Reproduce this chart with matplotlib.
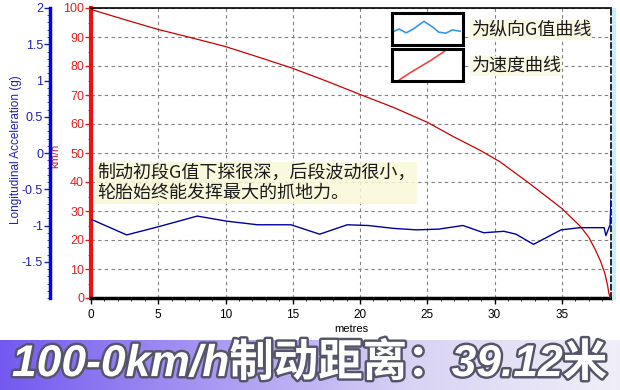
import numpy as np
import matplotlib.pyplot as plt
import matplotlib.patheffects as pe
from matplotlib.colors import LinearSegmentedColormap
from matplotlib.ticker import MultipleLocator, FixedLocator

plt.rcParams['font.family'] = ['Liberation Sans', 'Noto Sans CJK SC', 'DejaVu Sans']

# speed curve (km/h) against distance (m)
dist_v = [0, 2.5, 5, 7.5, 10, 12.5, 15, 17.5, 20, 22.5, 25, 27, 28.9, 30.4,
          32.6, 35.0, 36.4, 37.0, 37.5, 37.9, 38.2, 38.4, 38.5, 38.62]
speed = [99.5, 96, 92.6, 89.7, 86.7, 83, 79.2, 74.8, 70.2, 65.7, 60.6, 55.5,
         51, 47, 39.5, 30.9, 24.6, 21, 16.6, 12.5, 8.5, 4.5, 1.6, 0]

# longitudinal acceleration (g)
dist_g = [0.08, 2.65, 4.95, 7.9, 10.08, 12.39, 14.87, 17.0, 19.05, 20.6, 22.5,
          24.2, 25.85, 27.65, 29.2, 30.7, 31.6, 32.9, 34.95, 36.35, 38.15,
          38.28, 38.59, 38.66]
accel = [-0.92, -1.13, -1.02, -0.87, -0.94, -0.99, -0.99, -1.12, -0.99, -1.0,
         -1.04, -1.06, -1.05, -1.0, -1.10, -1.08, -1.12, -1.26, -1.06, -1.03,
         -1.03, -1.14, -0.99, -0.65]

g_ticks = [-1.5, -1, -0.5, 0, 0.5, 1, 1.5, 2]
g_labels = ['-1.5', '-1', '-0.5', '0', '0.5', '1', '1.5', '2']

# little icons of the legend boxes
icon_gx = [0.2, 1.0, 2.0, 3.0, 4.5, 5.8, 6.6, 7.6, 8.5, 9.6]
icon_g = [0.42, 0.5, 0.38, 0.5, 0.74, 0.55, 0.4, 0.37, 0.47, 0.43]
icon_vx = [1.0, 2.5, 4.0, 5.5, 7.4]
icon_v = [0.03, 0.25, 0.45, 0.65, 0.93]

title = '100-0km/h制动距离：39.12米'
note = '制动初段G值下探很深，后段波动很小，\n轮胎始终能发挥最大的抓地力。'

W, H = 620, 390
fig = plt.figure(figsize=(6.2, 3.9), dpi=100)
fig.patch.set_facecolor('white')

L, R, T, B = 91, 611, 8, 298
ax = fig.add_axes([L / W, 1 - B / H, (R - L) / W, (B - T) / H])
ax.set_xlim(0, 38.66)
ax.set_ylim(0, 100)
ax.grid(True, color='#808080', linestyle=(0, (3, 3)), linewidth=0.8)
ax.set_axisbelow(True)
ax.plot(dist_v, speed, color='#cc0000', lw=0.9, zorder=3)

ax.xaxis.set_major_locator(MultipleLocator(5))
ax.xaxis.set_minor_locator(MultipleLocator(1))
ax.yaxis.set_major_locator(MultipleLocator(10))
ax.yaxis.set_minor_locator(MultipleLocator(5))
ax.tick_params(axis='x', labelsize=8.5, length=4, width=1, pad=4)
ax.tick_params(axis='x', which='minor', length=2)
ax.tick_params(axis='y', labelsize=9, colors='#e02020', length=4, width=1, pad=1)
ax.tick_params(axis='y', which='minor', length=2, colors='#e02020')
ax.spines['left'].set_color('#ee1111')
ax.spines['left'].set_linewidth(3)
ax.spines['bottom'].set_linewidth(2.5)
ax.spines['top'].set_linewidth(1.2)
ax.spines['right'].set_linewidth(1.2)
ax.spines['right'].set_linestyle((0, (3, 2)))
ax.set_xlabel('metres', fontsize=8, labelpad=2)
ax.set_ylabel('km/h', fontsize=8, color='#cc2020')
ax.yaxis.set_label_coords(-31 / (R - L), 0.49)

# blue acceleration axis on the far left
ax2 = ax.twinx()
ax2.set_ylim(-2, 2)
ax2.plot(dist_g, accel, color='#0000a0', lw=1.0, zorder=4)
ax2.yaxis.tick_left()
ax2.yaxis.set_label_position('left')
ax2.spines['left'].set_visible(True)
ax2.spines['left'].set_position(('axes', -41 / (R - L)))
ax2.spines['left'].set_color('#0000ee')
ax2.spines['left'].set_linewidth(2.5)
for sp in ['right', 'top', 'bottom']:
    ax2.spines[sp].set_visible(False)
ax2.yaxis.set_major_locator(FixedLocator(g_ticks))
ax2.set_yticklabels(g_labels)
ax2.yaxis.set_minor_locator(MultipleLocator(0.1))
ax2.tick_params(axis='y', labelsize=9, colors='#2020b0', length=4, width=1, pad=1)
ax2.tick_params(axis='y', which='minor', length=2, colors='#2020b0')
ax2.set_ylabel('Longitudinal Acceleration (g)', fontsize=8.5, color='#2020b0')
ax2.yaxis.set_label_coords(-69 / (R - L), 0.51)

# comment box
ax.text(97 / W, 1 - 183 / H, note, transform=fig.transFigure, fontsize=13,
        family=['Noto Sans CJK SC'], color='#1a1a1a', va='center', ha='left',
        linespacing=1.1, zorder=6,
        bbox=dict(boxstyle='square,pad=0.1', fc='#fbf8d8', ec='none', alpha=0.85))

# legend boxes
for i, (y0, y1) in enumerate([(13, 45), (49, 81)]):
    lax = fig.add_axes([392 / W, 1 - y1 / H, 71 / W, (y1 - y0) / H])
    lax.set_xlim(0, 10)
    lax.set_ylim(0, 1)
    lax.set_xticks([])
    lax.set_yticks([])
    for sp in lax.spines.values():
        sp.set_linewidth(2.2)
    if i == 0:
        lax.plot(icon_gx, icon_g, color='#3399ee', lw=1.2)
    else:
        lax.plot(icon_vx, icon_v, color='#ee4444', lw=1.2)
fig.text(471 / W, 1 - 30 / H, '为纵向G值曲线', fontsize=13, va='center',
         family=['Noto Sans CJK SC'], color='#1a1a1a',
         bbox=dict(boxstyle='square,pad=0.05', fc='#fbf8e4', ec='none'))
fig.text(471 / W, 1 - 66 / H, '为速度曲线', fontsize=13, va='center',
         family=['Noto Sans CJK SC'], color='#1a1a1a',
         bbox=dict(boxstyle='square,pad=0.05', fc='#fbf8e4', ec='none'))

# thin cyan strip at right edge
fig.patches.append(plt.Rectangle((612 / W, 1 - 300 / H), 4 / W, 292 / H,
                                 transform=fig.transFigure, fc='#c8eef8',
                                 ec='none'))

# banner at the bottom
bax = fig.add_axes([0, 0, 1, 50 / H])
cmap = LinearSegmentedColormap.from_list('ban', ['#7459f0', '#a897f2', '#d9d3f4', '#f0eff8'])
grad = np.linspace(0, 1, 256)[None, :]
bax.imshow(grad, cmap=cmap, aspect='auto', extent=[0, 1, 0, 1])
bax.set_xlim(0, 1)
bax.set_ylim(0, 1)
bax.axis('off')
bax.text(0.5, 0.52, title, fontsize=32, fontweight='heavy', fontstyle='italic',
         color='white', ha='center', va='center',
         family=['Liberation Sans', 'Noto Sans CJK SC'],
         path_effects=[pe.withStroke(linewidth=3.5, foreground='#55556a')])

fig.savefig('out.png', dpi=100)
